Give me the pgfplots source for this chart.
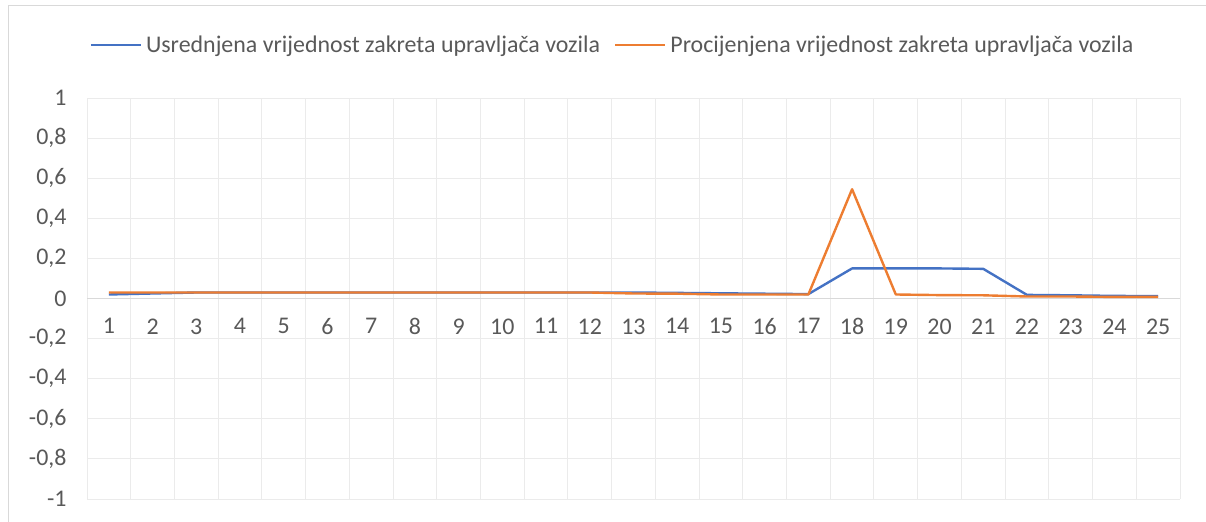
\documentclass[border=0pt]{standalone}
\usepackage{fontspec}
\setmainfont{Carlito}
\usepackage{pgfplots}
\pgfplotsset{compat=1.18}
\definecolor{sblue}{HTML}{4472C4}
\definecolor{sorange}{HTML}{ED7D31}
\definecolor{tgray}{HTML}{595959}
\definecolor{ggray}{HTML}{EBEBEB}
\definecolor{zgray}{HTML}{D9D9D9}
\definecolor{fgray}{HTML}{D9D9D9}
\begin{document}
\begin{tikzpicture}
\useasboundingbox (0bp,0bp) rectangle (1206bp,-522bp);
\draw[fgray, line width=1.2bp] (8.5bp,-5.5bp) rectangle (1220bp,-540bp);
\begin{axis}[
  at={(87bp,-499bp)}, anchor=south west,
  scale only axis, width=1093bp, height=401bp,
  xmin=0.5, xmax=25.5, ymin=-1, ymax=1,
  axis line style={draw=none},
  major tick length=0pt, minor tick length=0pt,
  xtick={1,...,25},
  minor xtick={0.5,1.5,...,25.5},
  xminorgrids=true, xmajorgrids=false, ymajorgrids=true,
  grid style={ggray, line width=0.9bp},
  minor grid style={ggray, line width=0.9bp},
  ytick={-1,-0.8,-0.6,-0.4,-0.2,0,0.2,0.4,0.6,0.8,1},
  yticklabels={-1,{-0,8},{-0,6},{-0,4},{-0,2},0,{0,2},{0,4},{0,6},{0,8},1},
  /pgf/number format/assume math mode=true,
  ticklabel style={font=\fontsize{24}{26}\selectfont, text=tgray},
  xticklabel style={yshift=184bp},
  yticklabel style={xshift=-17bp},
  legend columns=2,
  legend style={draw=none, fill=none, at={(0.5,1)}, anchor=center, yshift=53bp, xshift=-21bp,
    font=\fontsize{24}{26}\selectfont, text=tgray,
    /tikz/every odd column/.append style={column sep=2bp},
    /tikz/every even column/.append style={column sep=12bp}},
  legend image code/.code={\draw[#1] (0bp,0bp) -- (50bp,0bp);},
]
\draw[zgray, line width=1.1bp] (axis cs:0.5,0) -- (axis cs:25.5,0);
\addplot[sblue, line width=2.4bp, line join=round] coordinates {
(1,0.020) (2,0.025) (3,0.030) (4,0.030) (5,0.030) (6,0.030) (7,0.030) (8,0.030)
(9,0.030) (10,0.030) (11,0.030) (12,0.030) (13,0.030) (14,0.028) (15,0.026)
(16,0.024) (17,0.022) (18,0.150) (19,0.150) (20,0.150) (21,0.148) (22,0.018)
(23,0.016) (24,0.013) (25,0.012)};
\addlegendentry{Usrednjena vrijednost zakreta upravljača vozila}
\addplot[sorange, line width=2.4bp, line join=round] coordinates {
(1,0.030) (2,0.030) (3,0.030) (4,0.030) (5,0.030) (6,0.030) (7,0.030) (8,0.030)
(9,0.030) (10,0.030) (11,0.030) (12,0.030) (13,0.025) (14,0.024) (15,0.020)
(16,0.020) (17,0.020) (18,0.545) (19,0.020) (20,0.017) (21,0.016) (22,0.010)
(23,0.010) (24,0.008) (25,0.008)};
\addlegendentry{Procijenjena vrijednost zakreta upravljača vozila}
\end{axis}
\end{tikzpicture}
\end{document}
